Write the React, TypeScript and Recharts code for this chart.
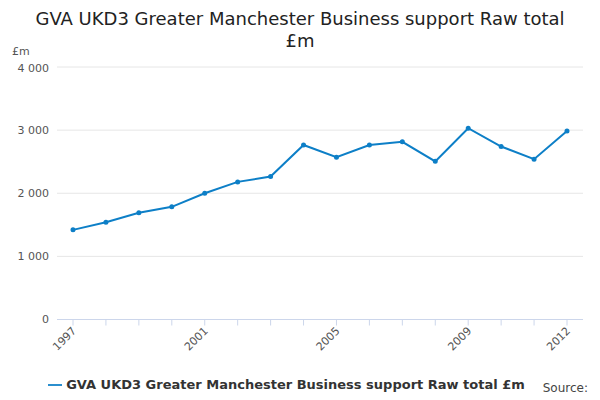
import React from 'react';
import { LineChart, Line, XAxis, YAxis, CartesianGrid, Legend } from 'recharts';

const years = ['1997', '1998', '1999', '2000', '2001', '2002', '2003', '2004', '2005', '2006', '2007', '2008', '2009', '2010', '2011', '2012'];
const values = [1420, 1540, 1690, 1785, 2000, 2180, 2265, 2765, 2570, 2765, 2815, 2505, 3030, 2740, 2540, 2985];
const shownYears = ['1997', '2001', '2005', '2009', '2012'];
const yTicks = [0, 1000, 2000, 3000, 4000];

const seriesName = 'GVA UKD3 Greater Manchester Business support Raw total £m';
const data = years.map((year, i) => ({ year, value: values[i] }));

const font = '"DejaVu Sans", Verdana, sans-serif';

const fmt = (v: number) => (v >= 1000 ? `${Math.floor(v / 1000)} ${String(v % 1000).padStart(3, '0')}` : String(v));

const YearTick = (props: any) => {
  const { x, y, payload } = props;
  if (!shownYears.includes(payload.value)) return null;
  return (
    <text x={x + 4} y={y + 4} transform={`rotate(-45 ${x + 4} ${y + 4})`} textAnchor="end" fontSize={11} fill="#555" fontFamily={font}>
      {payload.value}
    </text>
  );
};

export default function App() {
  return (
    <div style={{ position: 'relative', width: 600, height: 400, margin: -8, fontFamily: font, background: '#fff' }}>
      <div style={{ position: 'absolute', top: 8, left: 0, width: 600, textAlign: 'center', fontSize: 18, color: '#222', lineHeight: '22px' }}>
        GVA UKD3 Greater Manchester Business support Raw total
        <br />£m
      </div>
      <div style={{ position: 'absolute', top: 45, left: 12, fontSize: 11, color: '#555' }}>£m</div>
      <div style={{ position: 'absolute', top: 62, left: 0 }}>
        <LineChart width={600} height={330} data={data} margin={{ top: 5, right: 17, bottom: 0, left: 0 }}>
          <CartesianGrid vertical={false} stroke="#e6e6e6" />
          <XAxis dataKey="year" interval={0} tick={<YearTick />} tickSize={6} stroke="#ccd6eb" height={57}
            padding={{ left: 16, right: 16 }} />
          <YAxis domain={[0, 4000]} ticks={yTicks} tickFormatter={fmt} axisLine={false} tickLine={false} width={57}
            tick={{ fontSize: 11, fill: '#555', fontFamily: font }} />
          <Legend verticalAlign="bottom" align="center" iconType="plainline"
            formatter={(v) => <span style={{ color: '#333' }}>{v}</span>}
            wrapperStyle={{ fontSize: 13, fontWeight: 'bold', paddingTop: 0 }} />
          <Line type="linear" dataKey="value" name={seriesName} stroke="#0d7fc7" strokeWidth={2}
            dot={{ r: 1.5, fill: '#0d7fc7', stroke: '#0d7fc7' }} isAnimationActive={false} />
        </LineChart>
      </div>
      <div style={{ position: 'absolute', top: 381, right: 12, fontSize: 12, color: '#444' }}>Source:</div>
    </div>
  );
}
